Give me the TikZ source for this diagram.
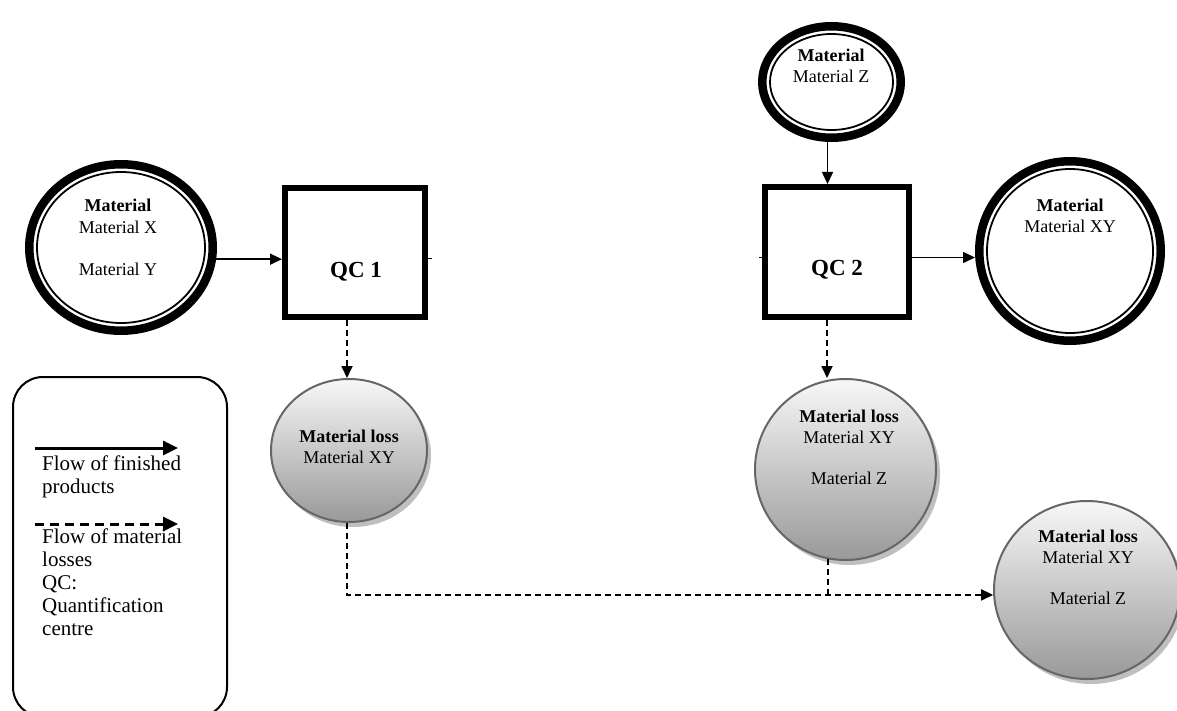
\documentclass[tikz,border=0pt]{standalone}
\usepackage{fontspec}
\setmainfont{Liberation Serif}
\usetikzlibrary{shapes.geometric,arrows.meta,shadows}
\begin{document}
\begin{tikzpicture}[x=1pt,y=-1pt,
  ring/.style={ellipse, draw, line width=8.5pt, inner sep=0pt},
  inring/.style={line width=1.8pt},
  qcbox/.style={rectangle, draw, line width=6pt, inner sep=0pt},
  loss/.style={ellipse, draw=black!60, line width=2pt, top color=black!3, bottom color=black!40,
    drop shadow={shadow xshift=4pt, shadow yshift=-5pt, fill=black!25, opacity=1}, inner sep=0pt},
  txt/.style={font=\fontsize{18}{21}\selectfont, align=center, anchor=base, inner sep=0pt},
  qctxt/.style={font=\fontsize{23}{27}\selectfont\bfseries, anchor=base, inner sep=0pt},
  flow/.style={line width=1.5pt, -{Triangle[length=12pt,width=11pt]}},
  lossflow/.style={line width=1.8pt, dash pattern=on 6pt off 4pt, -{Triangle[length=12pt,width=11pt]}},
  lossline/.style={line width=1.8pt, dash pattern=on 6pt off 4pt},
  legflow/.style={line width=3pt, -{Triangle[length=15pt,width=14pt]}},
  leglossflow/.style={line width=3pt, dash pattern=on 9pt off 6pt, -{Triangle[length=15pt,width=14pt]}},
  legtxt/.style={font=\fontsize{21}{23}\selectfont, align=left, anchor=base west, inner sep=0pt}
]
\useasboundingbox (0,0) rectangle (1177,711);

% material circles (text nodes are placed at the baseline of their last line)
\node[ring, minimum width=183.5pt, minimum height=166.5pt] (m1) at (121,247.5) {};
\draw[inring] (m1.center) ellipse [x radius=84, y radius=75.5];
\node[txt] (m1t) at (118,275) {\textbf{Material}\\Material X\\[21pt]Material Y};

\node[ring, minimum width=138.5pt, minimum height=111.5pt] (z) at (831.5,82) {};
\draw[inring] (z.center) ellipse [x radius=61.5, y radius=48];
\node[txt] (zt) at (831,83) {\textbf{Material}\\Material Z};

\node[ring, minimum width=181.5pt, minimum height=179.5pt] (xy) at (1070,251) {};
\draw[inring] (xy.center) ellipse [x radius=83, y radius=82];
\node[txt] (xyt) at (1070,233) {\textbf{Material}\\Material XY};

% QC boxes
\node[qcbox, minimum width=140pt, minimum height=129pt] (qc1) at (355,252.5) {};
\node[qctxt] (q1t) at (356,277) {QC 1};
\node[qcbox, minimum width=144pt, minimum height=130pt] (qc2) at (837,252) {};
\node[qctxt] (q2t) at (837,276) {QC 2};
\draw[line width=1.2pt] ([yshift=-6pt]qc1.east) -- ++(4,0);
\draw[line width=1.2pt] ([yshift=-5.5pt]qc2.west) -- ++(-3,0);

% loss circles
\node[loss, minimum width=156pt, minimum height=143pt] (loss1) at (349,450.5) {};
\node[txt] (l1t) at (349,463) {\textbf{Material loss}\\Material XY};
\node[loss, minimum width=181pt, minimum height=181pt] (loss2) at (845.5,469.5) {};
\node[txt] (l2t) at (849,484) {\textbf{Material loss}\\Material XY\\[20pt]Material Z};
\node[loss, minimum width=186pt, minimum height=178pt] (loss3) at (1087,590) {};
\node[txt] (l3t) at (1088,604) {\textbf{Material loss}\\Material XY\\[20pt]Material Z};

% connectors
\draw[flow] (m1.-7) -- (m1.-7 -| qc1.west);
\draw[flow] ([yshift=-5.5pt]qc2.east) -- ([yshift=-5.5pt]qc2.east -| xy.west);
\draw[flow] ([xshift=-4pt]z.south) -- ([xshift=-4pt]z.south |- qc2.north);
\draw[lossflow] ([xshift=-8pt]qc1.south) -- ([xshift=-8pt]qc1.south |- loss1.north);
\draw[lossflow] ([xshift=-10pt]qc2.south) -- ([xshift=-10pt]qc2.south |- loss2.north);
\draw[lossflow] ([xshift=-2pt]loss1.south) |- (loss3.183);
\draw[lossline] (loss2.-101) -- (loss2.-101 |- loss3.183);

% legend
\node[draw, line width=2pt, rounded corners=30pt, minimum width=214pt, minimum height=340pt, inner sep=0pt] (leg) at (120,547) {};
\coordinate (la1) at (35,448);
\coordinate (lb1) at (178,448);
\draw[legflow] (la1) -- (lb1);
\coordinate (la2) at (35,524);
\coordinate (lb2) at (178,524);
\draw[leglossflow] (la2) -- (lb2);
\node[legtxt] (lt1) at (42,493) {Flow of finished\\products};
\node[legtxt] (lt2) at (42,635) {Flow of material\\losses\\QC:\\Quantification\\centre};
\end{tikzpicture}
\end{document}
